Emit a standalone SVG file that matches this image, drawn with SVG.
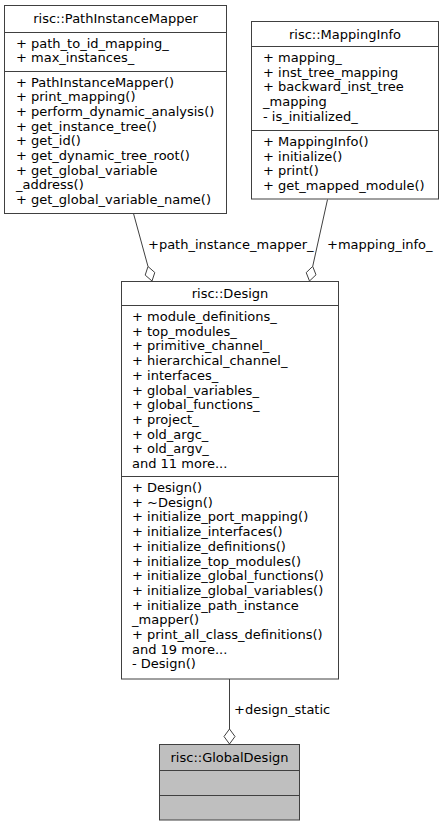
<svg xmlns="http://www.w3.org/2000/svg" width="441" height="827" viewBox="0 0 441 827">
<style>
text{font-family:"DejaVu Sans","Liberation Sans",sans-serif;font-size:13px;fill:#000}
.c{text-anchor:middle}
.box{fill:#fff;stroke:#404040;stroke-width:1}
.sel{fill:#bfbfbf;stroke:#404040;stroke-width:1}
.sep{stroke:#404040;stroke-width:1}
.edge{stroke:#404040;stroke-width:1;fill:none}
.dia{fill:#fff;stroke:#404040;stroke-width:1}
</style>
<rect width="441" height="827" fill="#fff"/>
<g id="connectors">
  <g id="e1">
    <path class="edge" d="M133.5,213.5 L148,266.5"/>
    <polygon class="dia" points="152,281 154.8,272.5 148,266.5 145.2,275.1"/>
    <text x="148" y="249">+path_instance_mapper_</text>
  </g>
  <g id="e2">
    <path class="edge" d="M327.5,199.5 L312.7,266.4"/>
    <polygon class="dia" points="309.5,281 316,274.8 312.7,266.4 306.2,272.6"/>
    <text x="327" y="249">+mapping_info_</text>
  </g>
  <g id="e3">
    <path class="edge" d="M229.5,679 L229.5,729"/>
    <polygon class="dia" points="229.5,744 235,736.5 229.5,729 224,736.5"/>
    <text x="234" y="714">+design_static</text>
  </g>
</g>
<g id="PathInstanceMapper">
  <rect class="box" x="4.5" y="5.5" width="222" height="208"/>
  <line class="sep" x1="4.5" y1="32.5" x2="226.5" y2="32.5"/>
  <line class="sep" x1="4.5" y1="71.5" x2="226.5" y2="71.5"/>
  <text class="c" x="115.5" y="23">risc::PathInstanceMapper</text>
  <text x="16" y="47.5">+ path_to_id_mapping_</text>
  <text x="16" y="62.2">+ max_instances_</text>
  <text x="16" y="86.5">+ PathInstanceMapper()</text>
  <text x="16" y="101.2">+ print_mapping()</text>
  <text x="16" y="115.9">+ perform_dynamic_analysis()</text>
  <text x="16" y="130.6">+ get_instance_tree()</text>
  <text x="16" y="145.3">+ get_id()</text>
  <text x="16" y="160">+ get_dynamic_tree_root()</text>
  <text x="16" y="174.7">+ get_global_variable</text>
  <text x="16" y="189.4">_address()</text>
  <text x="16" y="204.1">+ get_global_variable_name()</text>
</g>
<g id="MappingInfo">
  <rect class="box" x="251.5" y="21.5" width="187" height="177.5"/>
  <line class="sep" x1="251.5" y1="46.5" x2="438.5" y2="46.5"/>
  <line class="sep" x1="251.5" y1="130.5" x2="438.5" y2="130.5"/>
  <text class="c" x="345" y="38.5">risc::MappingInfo</text>
  <text x="263" y="62">+ mapping_</text>
  <text x="263" y="76.7">+ inst_tree_mapping</text>
  <text x="263" y="91.4">+ backward_inst_tree</text>
  <text x="263" y="106.1">_mapping</text>
  <text x="263" y="120.8">- is_initialized_</text>
  <text x="263" y="146">+ MappingInfo()</text>
  <text x="263" y="160.7">+ initialize()</text>
  <text x="263" y="175.4">+ print()</text>
  <text x="263" y="190.1">+ get_mapped_module()</text>
</g>
<g id="Design">
  <rect class="box" x="121.5" y="281.5" width="217" height="397.5"/>
  <line class="sep" x1="121.5" y1="305.5" x2="338.5" y2="305.5"/>
  <line class="sep" x1="121.5" y1="476.5" x2="338.5" y2="476.5"/>
  <text class="c" x="230" y="298">risc::Design</text>
  <text x="132" y="321">+ module_definitions_</text>
  <text x="132" y="335.7">+ top_modules_</text>
  <text x="132" y="350.4">+ primitive_channel_</text>
  <text x="132" y="365.1">+ hierarchical_channel_</text>
  <text x="132" y="379.8">+ interfaces_</text>
  <text x="132" y="394.5">+ global_variables_</text>
  <text x="132" y="409.2">+ global_functions_</text>
  <text x="132" y="423.9">+ project_</text>
  <text x="132" y="438.6">+ old_argc_</text>
  <text x="132" y="453.3">+ old_argv_</text>
  <text x="132" y="468">and 11 more...</text>
  <text x="132" y="492">+ Design()</text>
  <text x="132" y="506.7">+ ~Design()</text>
  <text x="132" y="521.4">+ initialize_port_mapping()</text>
  <text x="132" y="536.1">+ initialize_interfaces()</text>
  <text x="132" y="550.8">+ initialize_definitions()</text>
  <text x="132" y="565.5">+ initialize_top_modules()</text>
  <text x="132" y="580.2">+ initialize_global_functions()</text>
  <text x="132" y="594.9">+ initialize_global_variables()</text>
  <text x="132" y="609.6">+ initialize_path_instance</text>
  <text x="132" y="624.3">_mapper()</text>
  <text x="132" y="639">+ print_all_class_definitions()</text>
  <text x="132" y="653.7">and 19 more...</text>
  <text x="132" y="668.4">- Design()</text>
</g>
<g id="GlobalDesign">
  <rect class="sel" x="159.5" y="744.5" width="140" height="75.5"/>
  <line class="sep" x1="159.5" y1="770.5" x2="299.5" y2="770.5"/>
  <line class="sep" x1="159.5" y1="795.5" x2="299.5" y2="795.5"/>
  <text class="c" x="229.5" y="762">risc::GlobalDesign</text>
</g>
</svg>
